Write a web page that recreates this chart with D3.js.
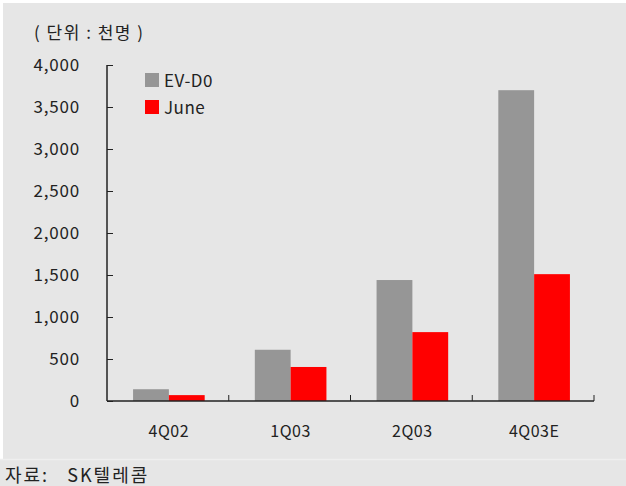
<!DOCTYPE html>
<html>
<head>
<meta charset="utf-8">
<script src="https://cdn.jsdelivr.net/npm/d3@7"></script>
<style>
  body { margin: 0; background: #e6e6e6; }
  svg text { font-family: "Noto Sans CJK KR", "DejaVu Sans", sans-serif; fill: #222; }
</style>
</head>
<body>
<svg id="chart"></svg>
<script>
const width = 626, height = 486;

// data
const categories = ['4Q02', '1Q03', '2Q03', '4Q03E'];
const seriesNames = ['EV-D0', 'June'];
const evdo = [140, 610, 1440, 3700];
const june = [70, 405, 820, 1510];
const yTicks = [0, 500, 1000, 1500, 2000, 2500, 3000, 3500, 4000];
const colors = ['#969696', '#ff0000'];

const svg = d3.select('#chart').attr('width', width).attr('height', height);

// panel background with thin white top/left margin
svg.append('rect').attr('width', width).attr('height', height).style('fill', '#e6e6e6');
svg.append('rect').attr('x', 0).attr('y', 0).attr('width', width).attr('height', 3).style('fill', '#fff');
svg.append('rect').attr('x', 0).attr('y', 0).attr('width', 3).attr('height', 460).style('fill', '#fff');
svg.append('line').attr('x1', 0).attr('x2', width).attr('y1', 459.5).attr('y2', 459.5)
  .style('stroke', '#efefef').style('stroke-width', 1.5);

const margin = { left: 107, right: 32, top: 65, bottom: 85 };
const x = d3.scaleBand().domain(categories).range([margin.left, width - margin.right]);
const y = d3.scaleLinear().domain([0, 4000]).range([height - margin.bottom, margin.top]);

const inner = d3.scaleBand().domain(seriesNames).range([0, x.bandwidth()]).paddingInner(0).paddingOuter(0.7);

const rows = categories.map((c, i) => ({ cat: c, values: [evdo[i], june[i]] }));

const groups = svg.append('g').selectAll('g').data(rows).join('g')
  .attr('transform', d => `translate(${x(d.cat) + 1},0)`);
groups.selectAll('rect').data(d => d.values.map((v, j) => ({ v, j }))).join('rect')
  .attr('x', d => inner(seriesNames[d.j]))
  .attr('width', inner.bandwidth())
  .attr('y', d => y(d.v))
  .attr('height', d => y(0) - y(d.v))
  .style('fill', d => colors[d.j]);

// y axis
const yAxis = svg.append('g').attr('transform', `translate(${margin.left},0)`)
  .call(d3.axisRight(y).tickValues(yTicks).tickSize(6).tickFormat(''));
yAxis.select('.domain').remove();
yAxis.selectAll('line').style('stroke', '#222');
svg.append('line').attr('x1', margin.left).attr('x2', margin.left)
  .attr('y1', y(4000)).attr('y2', y(0)).style('stroke', '#222').style('stroke-width', 1.5);
svg.append('g').selectAll('text').data(yTicks).join('text')
  .attr('x', 80).attr('y', d => y(d) + 6)
  .attr('text-anchor', 'end').style('font-size', '17px').style('letter-spacing', '0.8px')
  .text(d => d3.format(',')(d));

// x axis
svg.append('line').attr('x1', margin.left).attr('x2', width - margin.right)
  .attr('y1', y(0)).attr('y2', y(0)).style('stroke', '#222').style('stroke-width', 1.5);
const bounds = categories.map(c => x(c) + x.bandwidth());
svg.append('g').selectAll('line').data(bounds).join('line')
  .attr('x1', d => d).attr('x2', d => d)
  .attr('y1', y(0)).attr('y2', y(0) - 6).style('stroke', '#222');
svg.append('g').selectAll('text').data(categories).join('text')
  .attr('x', d => x(d) + x.bandwidth() / 2 + 1).attr('y', 437)
  .attr('text-anchor', 'middle').style('font-size', '16px').style('letter-spacing', '0.5px')
  .text(d => d);

// legend
const legend = svg.append('g').attr('transform', 'translate(145,73)');
seriesNames.forEach((name, i) => {
  legend.append('rect').attr('x', 0).attr('y', i * 27).attr('width', 14).attr('height', 14).style('fill', colors[i]);
  legend.append('text').attr('x', 19).attr('y', i * 27 + 14).style('font-size', '17px').style('letter-spacing', '0.5px').text(name);
});

// title and source
svg.append('text').attr('x', 34).attr('y', 39).style('font-size', '17px').style('letter-spacing', '1.5px').text('( 단위 : 천명 )');
svg.append('text').attr('x', 5).attr('y', 482).style('font-size', '18px').style('letter-spacing', '2px').style('white-space', 'pre').text('자료:   SK텔레콤');
</script>
</body>
</html>
